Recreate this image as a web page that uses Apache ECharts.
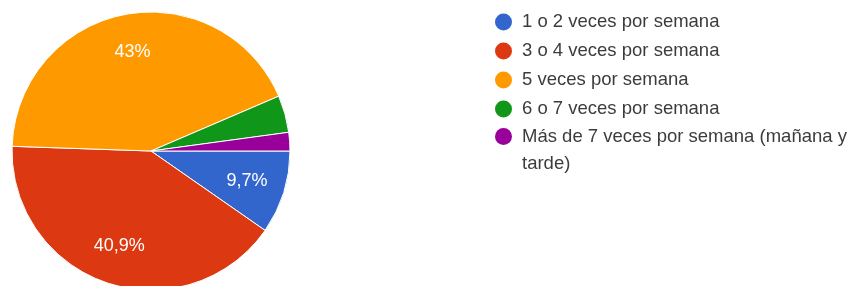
<!DOCTYPE html>
<html>
<head>
<meta charset="utf-8">
<script src="https://cdn.jsdelivr.net/npm/echarts@6/dist/echarts.min.js"></script>
<style>
html,body{margin:0;padding:0;background:#fff;}
#chart{width:852px;height:286px;}
</style>
</head>
<body>
<div id="chart"></div>
<script>
const categories = [
  '1 o 2 veces por semana',
  '3 o 4 veces por semana',
  '5 veces por semana',
  '6 o 7 veces por semana',
  'Más de 7 veces por semana (mañana y tarde)'
];
const counts = [9, 38, 40, 4, 2];
const colors = ['#3366cc', '#dc3912', '#ff9900', '#109618', '#990099'];

const FONT = '"Liberation Sans", Arial, sans-serif';
const data = categories.map((n, i) => ({ name: n, value: counts[i], itemStyle: { color: colors[i] } }));
const labelData = categories.map((n, i) => ({ name: n, value: counts[i] }));

function fmtPct(p) {
  let s = (Math.round(p * 10) / 10).toFixed(1);
  if (s.endsWith('.0')) s = s.slice(0, -2);
  return s.replace('.', ',') + '%';
}

const legendText = {
  fontFamily: FONT, fontSize: 18.5, color: '#3c3c3c', lineHeight: 27,
  rich: { t: { fontFamily: FONT, fontSize: 18.5, color: '#3c3c3c', lineHeight: 27, padding: [0, 0, 0, 5] } }
};

const chart = echarts.init(document.getElementById('chart'), null, { renderer: 'canvas' });
chart.setOption({
  animation: false,
  legend: [
    {
      orient: 'vertical',
      left: 495,
      top: 8.5,
      padding: 0,
      icon: 'circle',
      itemWidth: 17,
      itemHeight: 17,
      itemGap: 2,
      selectedMode: false,
      itemStyle: { borderWidth: 0 },
      data: categories.slice(0, 4),
      formatter: function (name) { return '{t|' + name + '}'; },
      textStyle: legendText
    },
    {
      orient: 'vertical',
      left: 495,
      top: 96,
      padding: 0,
      icon: 'circle',
      itemWidth: 17,
      itemHeight: 17,
      selectedMode: false,
      itemStyle: { borderWidth: 0 },
      data: categories.slice(4),
      formatter: function (name) {
        const parts = name.split(' tarde)');
        return '{t| }\n{t|' + parts[0] + '}\n{t|tarde)}';
      },
      textStyle: legendText
    }
  ],
  series: [
    {
      type: 'pie',
      center: [151, 151],
      radius: [0, 139],
      startAngle: 0,
      clockwise: true,
      avoidLabelOverlap: false,
      label: { show: false },
      labelLine: { show: false },
      itemStyle: { borderColor: '#ffffff', borderWidth: 1 },
      emphasis: { disabled: true },
      data: data
    },
    {
      type: 'pie',
      center: [151, 151],
      radius: [56, 139],
      startAngle: 0,
      clockwise: true,
      silent: true,
      avoidLabelOverlap: false,
      itemStyle: { color: 'transparent', borderWidth: 0 },
      labelLine: { show: false },
      emphasis: { disabled: true },
      label: {
        show: true,
        position: 'inside',
        fontFamily: FONT,
        fontSize: 18,
        color: '#ffffff',
        formatter: function (p) { return p.percent >= 5 ? fmtPct(p.percent) : ''; }
      },
      data: labelData
    }
  ]
});
</script>
</body>
</html>
